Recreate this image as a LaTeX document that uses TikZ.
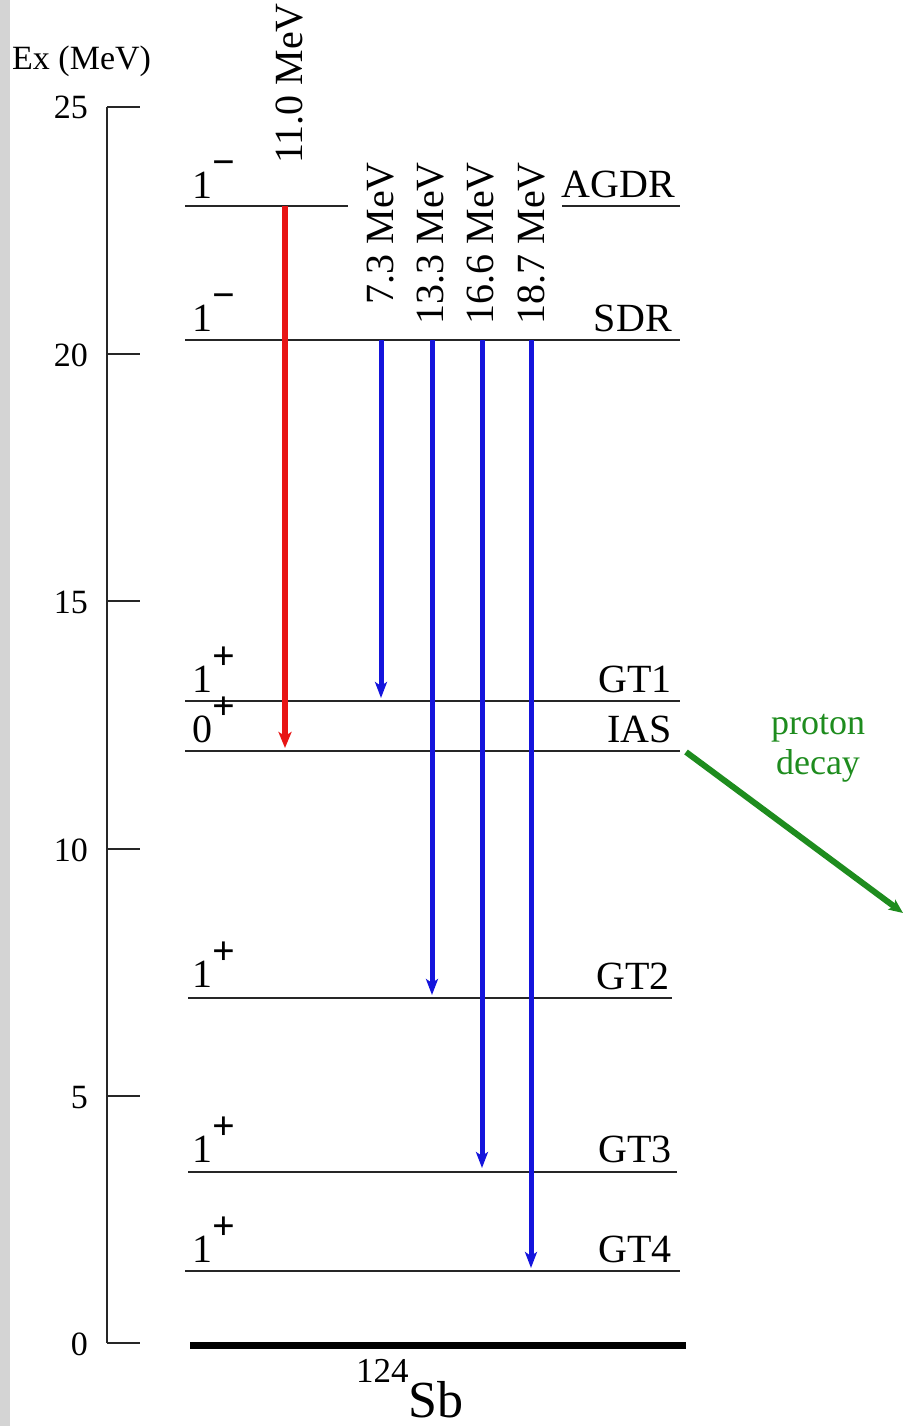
\documentclass[tikz,border=0pt]{standalone}
\usepackage{fontspec}
\setmainfont{Liberation Serif}
\usetikzlibrary{arrows.meta}
\definecolor{redarr}{RGB}{232,20,20}
\definecolor{bluearr}{RGB}{20,20,220}
\definecolor{greenarr}{RGB}{30,140,30}
\definecolor{stripgray}{RGB}{212,212,212}
\newcommand\spinsup[1]{\raisebox{23pt}{\fontsize{40}{40}\selectfont\bfseries #1}}
\begin{document}
\begin{tikzpicture}[x=1pt,y=-1pt,
  lvl/.style={line width=1.4pt, black!85},
  axisline/.style={line width=1.3pt, black!85},
  lab/.style={font=\fontsize{40}{44}\selectfont, inner sep=0pt},
  ticklab/.style={font=\fontsize{34}{38}\selectfont, inner sep=0pt, anchor=base east},
  spinlab/.style={lab, anchor=base west},
  namelab/.style={lab, anchor=base east},
  enlab/.style={lab, rotate=90, anchor=east},
  redtr/.style={redarr, line width=6pt, -{Stealth[length=16pt,width=13pt,inset=4pt]}},
  bluetr/.style={bluearr, line width=5pt, -{Stealth[length=16pt,width=12pt,inset=4pt]}},
  greentr/.style={greenarr, line width=6pt, -{Stealth[length=14pt,width=12pt,inset=3pt]}}
]
\useasboundingbox (0,0) rectangle (904,1426);
\fill[stripgray] (0,0) rectangle (10,1426);

% axis
\node[lab, font=\fontsize{34}{38}\selectfont, anchor=base west] (extitle) at (12,70) {Ex (MeV)};
\coordinate (ax25) at (107,107);
\coordinate (ax0) at (107,1343);
\draw[axisline] (ax25) -- (ax0);
\foreach \v/\yy in {25/107,20/354,15/601,10/849,5/1096,0/1343}{
  \coordinate (t\v a) at (107,\yy);
  \coordinate (t\v b) at (140,\yy);
  \draw[axisline] (t\v a) -- (t\v b);
  \node[ticklab] (tl\v) at (88,\yy+12) {\v};
}

% level coordinates
\coordinate (agdrL) at (185,206);
\coordinate (agdrM) at (348,206);
\coordinate (agdrN) at (562,206);
\coordinate (agdrR) at (680,206);
\coordinate (sdrL) at (185,340);
\coordinate (sdrR) at (680,340);
\coordinate (gt1L) at (185,701);
\coordinate (gt1R) at (680,701);
\coordinate (iasL) at (185,751);
\coordinate (iasR) at (680,751);
\coordinate (gt2L) at (188,998);
\coordinate (gt2R) at (672,998);
\coordinate (gt3L) at (188,1172);
\coordinate (gt3R) at (677,1172);
\coordinate (gt4L) at (185,1271);
\coordinate (gt4R) at (680,1271);
\coordinate (gsL) at (190,1345);
\coordinate (gsR) at (686,1345);

\draw[lvl] (agdrL) -- (agdrM);
\draw[lvl] (agdrN) -- (agdrR);
\draw[lvl] (sdrL) -- (sdrR);
\draw[lvl] (gt1L) -- (gt1R);
\draw[lvl] (iasL) -- (iasR);
\draw[lvl] (gt2L) -- (gt2R);
\draw[lvl] (gt3L) -- (gt3R);
\draw[lvl] (gt4L) -- (gt4R);
\draw[line width=7pt, black] (gsL) -- (gsR);

% spin labels
\node[spinlab] (s1) at (192,198) {1\spinsup{−}};
\node[spinlab] (s2) at (192,331) {1\spinsup{−}};
\node[spinlab] (s3) at (192,692) {1\spinsup{+}};
\node[spinlab] (s4) at (192,742) {0\spinsup{+}};
\node[spinlab] (s5) at (192,987) {1\spinsup{+}};
\node[spinlab] (s6) at (192,1162) {1\spinsup{+}};
\node[spinlab] (s7) at (192,1262) {1\spinsup{+}};

% names
\node[namelab] (nagdr) at (675,197) {AGDR};
\node[namelab] (nsdr) at (672,331) {SDR};
\node[namelab] (ngt1) at (672,692) {GT1};
\node[namelab] (nias) at (672,742) {IAS};
\node[namelab] (ngt2) at (670,989) {GT2};
\node[namelab] (ngt3) at (672,1162) {GT3};
\node[namelab] (ngt4) at (672,1262) {GT4};

% transitions
\coordinate (rA) at (285,206);
\coordinate (rB) at (285,748);
\draw[redtr] (rA) -- (rB);
\coordinate (b1A) at (381,340);
\coordinate (b1B) at (381,698);
\coordinate (b2A) at (432,340);
\coordinate (b2B) at (432,995);
\coordinate (b3A) at (482,340);
\coordinate (b3B) at (482,1168);
\coordinate (b4A) at (531,340);
\coordinate (b4B) at (531,1268);
\draw[bluetr] (b1A) -- (b1B);
\draw[bluetr] (b2A) -- (b2B);
\draw[bluetr] (b3A) -- (b3B);
\draw[bluetr] (b4A) -- (b4B);

% energy labels
\node[enlab] (e0) at (289,3) {11.0 MeV};
\node[enlab] (e1) at (381,162) {7.3 MeV};
\node[enlab] (e2) at (431,162) {13.3 MeV};
\node[enlab] (e3) at (481,162) {16.6 MeV};
\node[enlab] (e4) at (531,162) {18.7 MeV};

% proton decay
\coordinate (pA) at (686,752);
\coordinate (pB) at (903,913);
\draw[greentr] (pA) -- (pB);
\node[lab, greenarr, align=center, font=\fontsize{36}{40}\selectfont] (pd) at (818,748) {proton\\decay};

% nucleus
\node[inner sep=0pt, anchor=base west] (nuc) at (356,1417)
  {\raisebox{35pt}{\fontsize{35}{38}\selectfont 124}\fontsize{52}{56}\selectfont Sb};
\end{tikzpicture}
\end{document}
